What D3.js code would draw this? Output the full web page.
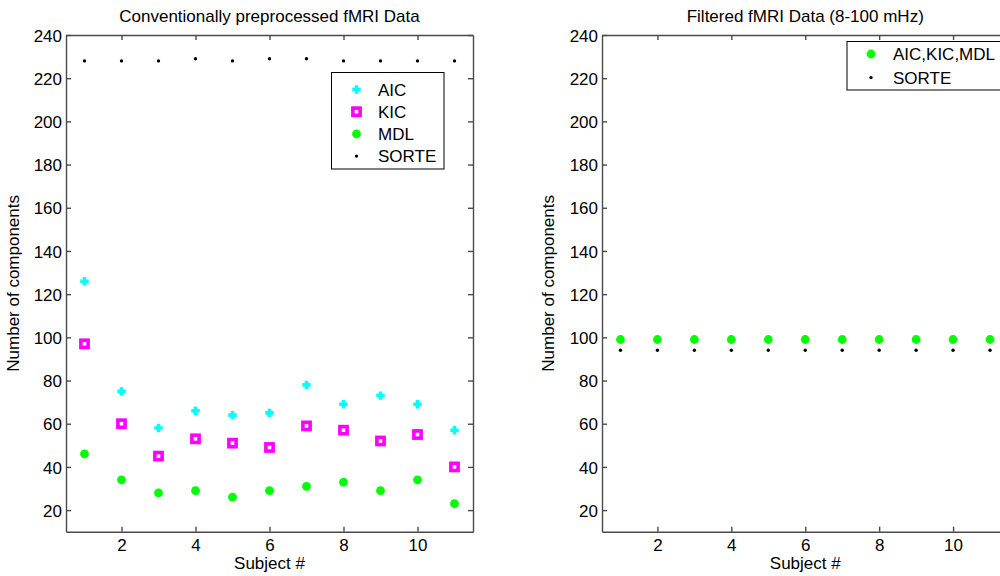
<!DOCTYPE html>
<html><head><meta charset="utf-8">
<script src="https://cdn.jsdelivr.net/npm/d3@7"></script>
<style>
body{margin:0;background:#fff;}
svg{display:block;}
text{font-family:"Liberation Sans",Arial,sans-serif;fill:#000;}
</style></head>
<body>
<svg id="c" width="1000" height="576"></svg>
<script>
const subjects = [1,2,3,4,5,6,7,8,9,10,11];
const aic   = [126,75,58,66,64,65,78,69,73,69,57];
const kic   = [97,60,45,53,51,49,59,57,52,55,40];
const mdl   = [46,34,28,29,26,29,31,33,29,34,23];
const sorteLeft  = [228,228,228,229,228,229,229,228,228,228,228];
const combinedRight = [99,99,99,99,99,99,99,99,99,99,99];
const sorteRight = [94,94,94,94,94,94,94,94,94,94,94];
const xTicks = [2,4,6,8,10];
const yTicks = [20,40,60,80,100,120,140,160,180,200,220,240];
const titles = ["Conventionally preprocessed fMRI Data","Filtered fMRI Data (8-100 mHz)"];

const svg = d3.select("#c");
const FS = 17;

function marker(g, type, x, y){
  if(type==="plus"){
    g.append("path").attr("d",`M${x-4.2},${y}H${x+4.2}M${x},${y-4.2}V${y+4.2}`)
      .attr("stroke","#00ffff").attr("stroke-width",3.6).attr("fill","none");
  } else if(type==="square"){
    g.append("rect").attr("x",x-3.6).attr("y",y-3.6).attr("width",7.2).attr("height",7.2)
      .attr("stroke","#ff00ff").attr("stroke-width",3.6).attr("fill","none");
  } else if(type==="disc"){
    g.append("circle").attr("cx",x).attr("cy",y).attr("r",4.4).attr("fill","#00ff00");
  } else if(type==="dot"){
    g.append("circle").attr("cx",x).attr("cy",y).attr("r",1.7).attr("fill","#000");
  }
}

function panel(left, right, title, series, legend, legendBox, ylabX){
  const top = 35, bottom = 531.7;
  const x = d3.scaleLinear().domain([0.5,11.5]).range([left,right]);
  const y = d3.scaleLinear().domain([10,240]).range([bottom,top]);
  const g = svg.append("g");
  const axL = g.append("g").attr("transform",`translate(${left},0)`)
    .call(d3.axisLeft(y).tickValues(yTicks).tickSizeInner(-5).tickSizeOuter(0).tickPadding(4));
  const axR = g.append("g").attr("transform",`translate(${right},0)`)
    .call(d3.axisRight(y).tickValues(yTicks).tickSizeInner(-5).tickSizeOuter(0).tickFormat(""));
  const axB = g.append("g").attr("transform",`translate(0,${bottom})`)
    .call(d3.axisBottom(x).tickValues(xTicks).tickSizeInner(-5).tickSizeOuter(0).tickPadding(8));
  const axT = g.append("g").attr("transform",`translate(0,${top})`)
    .call(d3.axisTop(x).tickValues(xTicks).tickSizeInner(-5).tickSizeOuter(0).tickFormat(""));
  [axL,axR,axB,axT].forEach(a=>{
    a.selectAll("path,line").attr("stroke","#4a4a4a").attr("stroke-width",1.4);
    a.selectAll("text").attr("font-family","'Liberation Sans',Arial,sans-serif")
      .attr("font-size",FS).attr("fill","#000");
  });
  axL.selectAll("text").attr("dy","0.36em");
  axB.selectAll("text").attr("dy","0.68em");
  g.append("text").attr("x",(left+right)/2).attr("y",22).attr("text-anchor","middle")
    .attr("font-size",FS).text(title);
  g.append("text").attr("x",(left+right)/2).attr("y",569).attr("text-anchor","middle")
    .attr("font-size",FS).text("Subject #");
  g.append("text").attr("transform",`translate(${ylabX},${(top+bottom)/2}) rotate(-90)`)
    .attr("text-anchor","middle").attr("font-size",FS).text("Number of components");
  series.forEach(s=>{
    s.values.forEach((v,i)=>marker(g,s.type,x(subjects[i]),y(v)));
  });
  const lb = legendBox;
  g.append("rect").attr("x",lb.x).attr("y",lb.y).attr("width",lb.w).attr("height",lb.h)
    .attr("fill","#fff").attr("stroke","#000").attr("stroke-width",1);
  legend.forEach((l,i)=>{
    const yy = lb.y0 + i*lb.dy;
    marker(g,l.type,lb.mx,yy);
    g.append("text").attr("x",lb.tx).attr("y",yy).attr("dy","0.36em")
      .attr("font-size",FS).text(l.label);
  });
}

panel(66, 473, titles[0],
  [{type:"dot",values:sorteLeft},{type:"plus",values:aic},{type:"square",values:kic},{type:"disc",values:mdl}],
  [{type:"plus",label:"AIC"},{type:"square",label:"KIC"},{type:"disc",label:"MDL"},{type:"dot",label:"SORTE"}],
  {x:331.5,y:72.5,w:112.5,h:96.5,mx:356.5,tx:378,y0:89.5,dy:22.2}, 19);

panel(602, 1008.5, titles[1],
  [{type:"disc",values:combinedRight},{type:"dot",values:sorteRight}],
  [{type:"disc",label:"AIC,KIC,MDL"},{type:"dot",label:"SORTE"}],
  {x:847,y:41.5,w:170,h:48.5,mx:871,tx:893,y0:54,dy:23.6}, 554);
</script>
</body></html>
